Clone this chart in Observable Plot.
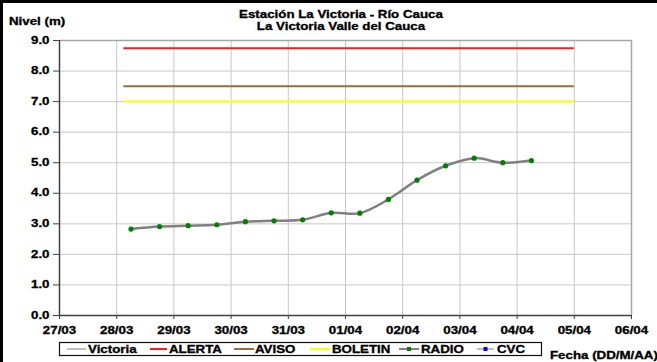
<!DOCTYPE html>
<html><head><meta charset="utf-8">
<script src="https://cdn.jsdelivr.net/npm/d3@7"></script>
<script src="https://cdn.jsdelivr.net/npm/@observablehq/plot@0.6"></script>
<style>
body{margin:0;background:#fff;}
#wrap{position:relative;width:657px;height:362px;overflow:hidden;background:#fff;}
#wrap svg{position:absolute;left:0;top:0;}
#wrap svg text{stroke:#000;stroke-width:0.3px;}
</style></head><body><div id="wrap"></div>
<script>
// ---- data ----
const times = ["2011-03-28T06:00Z","2011-03-28T18:00Z","2011-03-29T06:00Z","2011-03-29T18:00Z","2011-03-30T06:00Z","2011-03-30T18:00Z","2011-03-31T06:00Z","2011-03-31T18:00Z","2011-04-01T06:00Z","2011-04-01T18:00Z","2011-04-02T06:00Z","2011-04-02T18:00Z","2011-04-03T06:00Z","2011-04-03T18:00Z","2011-04-04T06:00Z"];
const nivel = [2.83, 2.91, 2.94, 2.97, 3.07, 3.10, 3.13, 3.36, 3.35, 3.80, 4.43, 4.90, 5.15, 5.00, 5.07];
const thresholdNames = ["ALERTA","AVISO","BOLETIN"];
const thresholdValues = [8.75, 7.5, 7.0];
const thresholdColors = ["#ff1a1a","#9c6b3c","#ffff00"];
const thresholdStart = "2011-03-28T03:00Z";
const thresholdEnd = "2011-04-05T00:00Z";
const xTickLabels = ["27/03","28/03","29/03","30/03","31/03","01/04","02/04","03/04","04/04","05/04","06/04"];
const yTickValues = [0,1,2,3,4,5,6,7,8,9];
const titleLines = ["Estación La Victoria - Río Cauca","La Victoria Valle del Cauca"];
const yLabel = "Nivel (m)";
const xLabel = "Fecha (DD/M/AA)";
const legendNames = ["Victoria","ALERTA","AVISO","BOLETIN","RADIO","CVC"];
const legendColors = ["#c0c0c0","#ff1a1a","#9c6b3c","#ffff00","#808080","#c0c0c0"];
const legendDots = [null,null,null,null,"#008000","#0000ff"];

// ---- tables ----
const xTicks = xTickLabels.map((s,i)=>new Date(Date.UTC(2011, 2, 27 + i)));
const series = times.map((t,i)=>({t:new Date(t), v:nivel[i]}));
const thresholds = thresholdNames.map((n,i)=>({name:n, value:thresholdValues[i], color:thresholdColors[i], start:new Date(thresholdStart), end:new Date(thresholdEnd)}));
const xDomain = [xTicks[0], xTicks[xTicks.length-1]];
const fmt = d => xTickLabels[xTicks.findIndex(t=>+t===+d)];

const chart = Plot.plot({
  width:657, height:362,
  marginLeft:59, marginRight:26, marginTop:40, marginBottom:47,
  x:{type:"utc", domain:xDomain},
  y:{domain:[0,9]},
  color:{type:"identity"},
  style:{fontFamily:"'Liberation Sans', Arial, sans-serif", fontSize:"10px", fontWeight:"bold", color:"#000", background:"transparent"},
  marks:[
    Plot.gridX(xTicks, {stroke:"#c8c8c8", strokeOpacity:1}),
    Plot.gridY(yTickValues, {stroke:"#c8c8c8", strokeOpacity:1}),
    Plot.ruleY([9], {stroke:"#a6a6a6", strokeWidth:1.5}),
    Plot.ruleX([xDomain[1]], {stroke:"#a6a6a6", strokeWidth:1.5}),
    Plot.ruleY(thresholds, {y:"value", x1:"start", x2:"end", stroke:"color", strokeWidth:2}),
    Plot.line(series, {x:"t", y:"v", stroke:"#808080", strokeWidth:2.5, curve:"catmull-rom"}),
    Plot.dot(series, {x:"t", y:"v", fill:"#008000", r:2.6}),
    Plot.axisX(xTicks, {tickFormat:fmt, tickSize:4, tickPadding:7, stroke:"#404040", label:null}),
    Plot.axisY(yTickValues, {tickFormat:d=>d.toFixed(1), tickSize:6, tickPadding:4, stroke:"#404040", label:null}),
    Plot.ruleX([xDomain[0]], {stroke:"#404040", strokeWidth:1.5}),
    Plot.ruleY([0], {stroke:"#404040", strokeWidth:1.5})
  ]
});
const wrap = document.getElementById("wrap");
wrap.appendChild(chart);

// ---- overlay: titles, labels, legend ----
const ov = d3.select(wrap).append("svg").attr("width",657).attr("height",362)
  .style("font-family","'Liberation Sans', Arial, sans-serif").style("font-size","10px").style("font-weight","bold");
ov.append("rect").attr("x",1.5).attr("y",1.5).attr("width",700).attr("height",400).attr("fill","none").attr("stroke","#000").attr("stroke-width",3);
titleLines.forEach((s,i)=>ov.append("text").attr("x",341).attr("y",18+i*12).attr("text-anchor","middle").text(s));
ov.append("text").attr("x",9).attr("y",25).text(yLabel);
ov.append("text").attr("x",550).attr("y",359).text(xLabel);
ov.append("rect").attr("x",59.5).attr("y",342.5).attr("width",482).attr("height",13).attr("fill","#fff").attr("stroke","#111").attr("stroke-width",1.2);
const lx = [[67,86,88],[150,167,169],[234,254,255],[310,330,332],[399,419,421],[477,494,497]];
legendNames.forEach((n,i)=>{
  const [a,b,t] = lx[i];
  ov.append("line").attr("x1",a).attr("x2",b).attr("y1",349).attr("y2",349).attr("stroke",legendColors[i]).attr("stroke-width",2);
  if(legendDots[i]) ov.append("rect").attr("x",(a+b)/2-2).attr("y",347).attr("width",4).attr("height",4).attr("fill",legendDots[i]);
  ov.append("text").attr("x",t).attr("y",352.5).text(n);
});

// stretch text horizontally like the original (wide rendering)
document.querySelectorAll("#wrap svg text").forEach(el=>{
  const len = el.getComputedTextLength();
  if(len>0){ el.setAttribute("textLength", len*1.33); el.setAttribute("lengthAdjust","spacingAndGlyphs"); }
});
</script></body></html>
